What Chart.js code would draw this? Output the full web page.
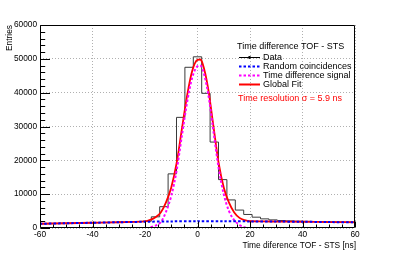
<!DOCTYPE html>
<html>
<head>
<meta charset="utf-8">
<script src="https://cdn.jsdelivr.net/npm/chart.js@4"></script>
<style>
  html, body { margin: 0; padding: 0; background: #fff; }
  #wrap { width: 396px; height: 254px; }
</style>
</head>
<body>
<div id="wrap"><canvas id="canvas"></canvas></div>
<script>
// histogram (3.2 ns bins), counts per bin
var histEdges = [-60, -56, -52.8, -49.6, -46.4, -43.2, -40, -36.8, -33.6, -30.4, -27.2, -24, -20.8,
  -17.6, -14.4, -11.2, -8, -4.8, -1.6, 1.6, 4.8, 8, 11.2, 14.4, 17.6, 20.8, 24, 27.2, 30.4, 33.6,
  36.8, 40, 43.2, 46.4, 49.6, 52.8, 56, 60];
var histCounts = [1250, 1350, 1400, 1400, 1500, 1550, 1600, 1650, 1650, 1750, 1800, 1900,
  2000, 3300, 6300, 16000, 32700, 47500, 50600, 39800, 25400, 14300, 8300, 5300, 4000,
  3200, 2700, 2400, 2200, 2100, 2000, 1950, 1900, 1850, 1800, 1750, 1700];

// global fit
var fitX = [-60, -50, -40, -30, -25, -20, -18, -16, -14, -12, -10, -8, -6, -4, -2, 0, 1, 2, 4, 6, 8, 10, 12, 14, 16, 18, 20, 25, 30, 40, 50, 60];
var fitY = [1250, 1400, 1550, 1700, 1800, 1950, 2400, 3200, 4600, 7600, 12000, 19000, 29000, 39000, 46500, 49700, 49800, 48500, 41500, 30500, 19500, 12000, 7500, 4600, 3000, 2300, 2000, 1950, 1900, 1850, 1750, 1700];

// time difference signal
var sigX = [-21, -18, -16, -14, -12, -10, -8, -6, -4, -2, 0, 1, 2, 4, 6, 8, 10, 12, 14, 16, 18, 21];
var sigY = [-800, 200, 700, 1700, 4800, 9500, 16800, 27000, 37000, 44500, 47800, 48000, 46800, 40000, 29000, 18000, 10000, 5000, 2300, 900, 200, -800];

// random coincidences
var bgX = [-60, -50, -40, -30, -20, -10, 0, 10, 20, 30, 40, 50, 60];
var bgY = [1250, 1400, 1550, 1700, 1850, 1950, 2000, 2000, 1950, 1900, 1850, 1750, 1700];

var legendHeader = 'Time difference TOF - STS';
var legendLabels = ['Data', 'Random coincidences', 'Time difference signal', 'Global Fit'];
var resolutionText = 'Time resolution \u03c3 = 5.9 ns';
var xTitle = 'Time diference TOF - STS [ns]';
var yTitle = 'Entries';

var FONT = '"Liberation Sans", Arial, Helvetica, sans-serif';
Chart.defaults.font.family = FONT;
Chart.defaults.color = '#000';

function pts(xs, ys) {
  return xs.map(function(x, i) { return {x: x, y: ys[i]}; });
}

var histPts = pts(histEdges.slice(0, histCounts.length), histCounts);
histPts.push({x: histEdges[histEdges.length - 1], y: histCounts[histCounts.length - 1]});

var rootStyle = {
  id: 'rootStyle',
  afterDraw: function(chart) {
    var ctx = chart.ctx, a = chart.chartArea;
    var xs = chart.scales.x, ys = chart.scales.y;
    ctx.save();
    ctx.strokeStyle = '#000';
    ctx.lineWidth = 1;
    var L = Math.round(a.left) + 0.5, R = Math.round(a.right) - 0.5;
    var T = Math.round(a.top) + 0.5, B = Math.round(a.bottom) - 0.5;
    ctx.beginPath();
    ctx.rect(L, T, R - L, B - T);
    // x ticks
    for (var v = -60; v <= 60; v += 5) {
      var px = Math.round(xs.getPixelForValue(v)) + 0.5;
      var len = (v % 20 === 0) ? 6 : 3;
      ctx.moveTo(px, B);
      ctx.lineTo(px, B - len);
    }
    // y ticks
    for (var w = 0; w <= 60000; w += 2000) {
      var py = Math.round(ys.getPixelForValue(w)) + 0.5;
      var l2 = (w % 10000 === 0) ? 9.5 : 4.7;
      ctx.moveTo(L, py);
      ctx.lineTo(L + l2, py);
    }
    ctx.stroke();

    // axis titles
    ctx.fillStyle = '#000';
    ctx.font = '8.4px ' + FONT;
    ctx.textAlign = 'right';
    ctx.textBaseline = 'middle';
    ctx.fillText(xTitle, 356, 246);
    ctx.save();
    ctx.translate(10, 25);
    ctx.rotate(-Math.PI / 2);
    ctx.fillText(yTitle, 0, 0);
    ctx.restore();

    // legend
    ctx.font = '9px ' + FONT;
    ctx.textAlign = 'left';
    ctx.fillText(legendHeader, 237, 47);
    var rowY = [57.5, 66.5, 75.5, 84.5];
    var styles = [
      {c: '#000', w: 1, d: []},
      {c: '#0000ff', w: 2, d: [2.5, 2]},
      {c: '#ff00ff', w: 2, d: [2.5, 2]},
      {c: '#ff0000', w: 2, d: []}
    ];
    for (var i = 0; i < legendLabels.length; i++) {
      var s = styles[i];
      ctx.beginPath();
      ctx.setLineDash(s.d);
      ctx.strokeStyle = s.c;
      ctx.lineWidth = s.w;
      ctx.moveTo(239, rowY[i]);
      ctx.lineTo(260, rowY[i]);
      ctx.stroke();
      ctx.setLineDash([]);
      if (i === 0) {
        ctx.beginPath();
        ctx.fillStyle = '#000';
        ctx.arc(249.5, rowY[i], 1.4, 0, Math.PI * 2);
        ctx.fill();
      }
      ctx.fillStyle = '#000';
      ctx.fillText(legendLabels[i], 263, rowY[i]);
    }
    ctx.fillStyle = '#ff0000';
    ctx.fillText(resolutionText, 238, 99);
    ctx.restore();
  }
};

window.onload = function() {
  var ctx = document.getElementById('canvas').getContext('2d');
  window.myChart = new Chart(ctx, {
    type: 'line',
    data: {
      datasets: [
        {
          label: legendLabels[1], data: pts(bgX, bgY),
          borderColor: '#0000ff', borderWidth: 2, borderDash: [2.5, 2],
          pointRadius: 0, tension: 0.3, fill: false
        },
        {
          label: legendLabels[2], data: pts(sigX, sigY),
          borderColor: '#ff00ff', borderWidth: 2, borderDash: [2.5, 2],
          pointRadius: 0, cubicInterpolationMode: 'monotone', fill: false
        },
        {
          label: legendLabels[3], data: pts(fitX, fitY),
          borderColor: '#ff0000', borderWidth: 1.8,
          pointRadius: 0, cubicInterpolationMode: 'monotone', fill: false
        },
        {
          label: legendLabels[0], data: histPts,
          borderColor: '#3a3a3a', borderWidth: 1, stepped: true,
          pointRadius: 0, fill: false
        }
      ]
    },
    options: {
      responsive: true,
      maintainAspectRatio: false,
      animation: false,
      layout: { padding: { left: 0, right: 41, top: 25, bottom: 0 } },
      plugins: { legend: { display: false }, tooltip: { enabled: false } },
      scales: {
        x: {
          type: 'linear', min: -60, max: 60,
          afterFit: function(scale) { scale.height = 26; },
          ticks: { stepSize: 20, font: { size: 8.3 }, padding: 2, maxRotation: 0,
                   callback: function(v) { return String(v); } },
          grid: { color: '#b0b0b0', drawTicks: false, lineWidth: 1 },
          border: { display: false, dash: [1, 2] }
        },
        y: {
          min: 0, max: 60000,
          afterFit: function(scale) { scale.width = 40; },
          ticks: { stepSize: 10000, font: { size: 8.3 }, padding: 3,
                   callback: function(v) { return String(v); } },
          grid: { color: '#b0b0b0', drawTicks: false, lineWidth: 1 },
          border: { display: false, dash: [1, 2] }
        }
      }
    },
    plugins: [rootStyle]
  });
};
</script>
</body>
</html>
